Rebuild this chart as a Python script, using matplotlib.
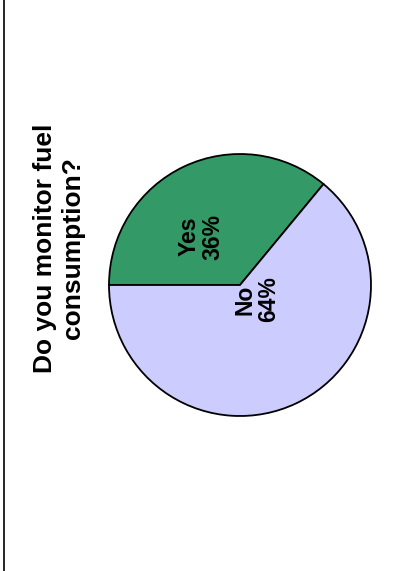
import matplotlib.pyplot as plt
from matplotlib.lines import Line2D

plt.rcParams['font.family'] = ['Liberation Sans', 'DejaVu Sans']

labels = ['Yes', 'No']
shares = [36, 64]
colors = ['#339966', '#ccccff']
title = 'Do you monitor fuel\nconsumption?'

W, H = 409, 571
fig = plt.figure(figsize=(W / 100, H / 100), dpi=100)

# pie centred at (240, 285) px, radius ~131 px
cx, cy, r = 240, 285, 131
ax = fig.add_axes([(cx - r) / W, (H - cy - r) / H, 2 * r / W, 2 * r / H])
wedges, _ = ax.pie(shares, colors=colors, startangle=180, counterclock=False,
                   wedgeprops=dict(edgecolor='black', linewidth=1.3))
ax.set_xlim(-1, 1)
ax.set_ylim(-1, 1)
ax.set_aspect('equal')
ax.axis('off')

# slice labels, turned sideways like the rest of the page
label_pos = [(-0.30, 0.37), (0.13, -0.11)]
for lab, val, (x, y) in zip(labels, shares, label_pos):
    ax.text(x, y, f'{lab}\n{val}%', rotation=90, ha='center', va='center',
            fontsize=16.5, fontweight='bold', linespacing=1.05)

fig.text(59 / W, 1 - 248 / H, title, rotation=90, ha='center', va='center',
         fontsize=19, fontweight='bold', multialignment='center', linespacing=1.2)

# page edge on the left
fig.add_artist(Line2D([3.5 / W, 3.5 / W], [0, 1], color='black', linewidth=1.2,
                      transform=fig.transFigure))

fig.savefig('out.png', dpi=100)
